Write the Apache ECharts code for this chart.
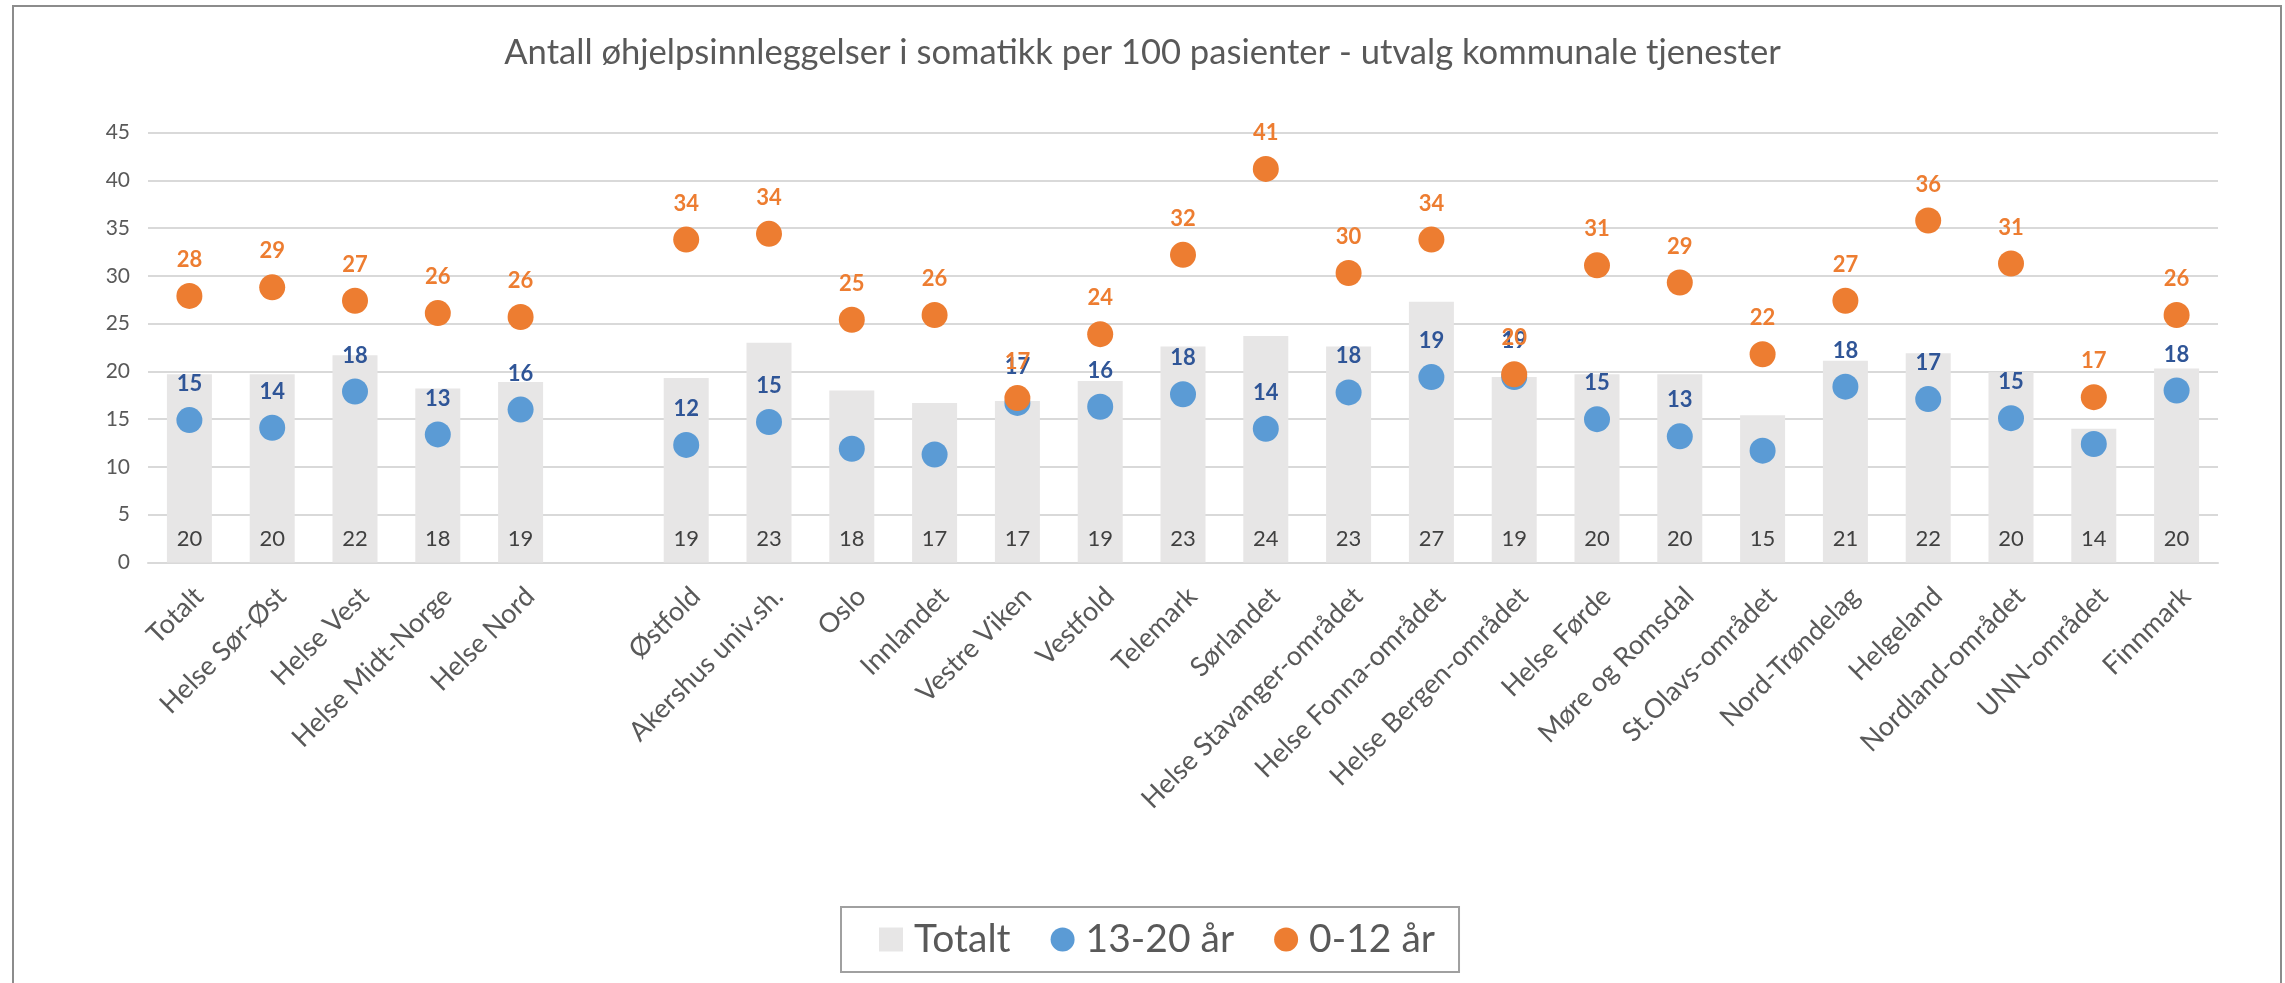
<!DOCTYPE html>
<html>
<head>
<meta charset="utf-8">
<script src="https://cdn.jsdelivr.net/npm/echarts@6/dist/echarts.min.js"></script>
<style>
html,body{margin:0;padding:0;background:#fff;}
#chart{width:2285px;height:983px;}
</style>
</head>
<body>
<div id="chart"></div>
<script>
const title = 'Antall øhjelpsinnleggelser i somatikk per 100 pasienter - utvalg kommunale tjenester';
const categories = ['Totalt','Helse Sør-Øst','Helse Vest','Helse Midt-Norge','Helse Nord','','Østfold','Akershus univ.sh.','Oslo','Innlandet','Vestre Viken','Vestfold','Telemark','Sørlandet','Helse Stavanger-området','Helse Fonna-området','Helse Bergen-området','Helse Førde','Møre og Romsdal','St.Olavs-området','Nord-Trøndelag','Helgeland','Nordland-området','UNN-området','Finnmark'];
const totalt = [19.7,19.7,21.7,18.2,18.9,null,19.3,23.0,18.0,16.7,16.9,19.0,22.6,23.7,22.6,27.3,19.4,19.7,19.7,15.4,21.1,21.9,19.9,14.0,20.3];
const teen = [14.9,14.1,17.9,13.4,16.0,null,12.3,14.7,11.9,11.3,16.7,16.3,17.6,14.0,17.8,19.4,19.4,15.0,13.2,11.7,18.4,17.1,15.1,12.4,18.0];
const child = [27.9,28.8,27.4,26.1,25.7,null,33.8,34.4,25.4,25.9,17.2,23.9,32.2,41.2,30.3,33.8,19.7,31.1,29.3,21.8,27.4,35.8,31.3,17.3,25.9];
const teenLabelHidden = ['Oslo','Innlandet','St.Olavs-området','UNN-området'];
const seriesNames = ['Totalt','13-20 år','0-12 år'];
const yTicks = {min:0, max:45, interval:5};

const FONT = 'Lato, "Liberation Sans", sans-serif';
const chart = echarts.init(document.getElementById('chart'));
const round = p => (p.value == null ? '' : String(Math.round(p.value)));

const teenData = teen.map((v,i) => teenLabelHidden.includes(categories[i]) ? {value:v, label:{show:false}} : v);

chart.setOption({
  backgroundColor:'#fff',
  animation:false,
  textStyle:{fontFamily:FONT},
  title:{
    text:title, left:'center', top:30,
    textStyle:{color:'#595959', fontSize:34.6, fontWeight:'normal', fontFamily:FONT}
  },
  graphic:[{
    type:'rect', shape:{x:13, y:6, width:2268, height:1010},
    style:{fill:'none', stroke:'#8c8c8c', lineWidth:2}, silent:true, z:-1
  }],
  legend:{
    left:841, top:907,
    padding:[13,24,13,38],
    borderColor:'#a0a0a0', borderWidth:2,
    itemWidth:24, itemHeight:24, itemGap:40,
    textStyle:{color:'#595959', fontSize:39, fontFamily:FONT, padding:[0,0,0,6]},
    data:[
      {name:seriesNames[0], icon:'rect'},
      {name:seriesNames[1], icon:'circle'},
      {name:seriesNames[2], icon:'circle'}
    ]
  },
  grid:{left:148, top:132.6, width:2070, height:429.8, containLabel:false},
  xAxis:{
    type:'category', data:categories,
    axisLine:{show:true, lineStyle:{color:'#d9d9d9', width:2}},
    axisTick:{show:false},
    axisLabel:{rotate:45, interval:0, margin:20, align:'right', verticalAlign:'top',
               color:'#595959', fontSize:27, fontFamily:FONT}
  },
  yAxis:{
    type:'value', min:yTicks.min, max:yTicks.max, interval:yTicks.interval,
    axisLine:{show:false}, axisTick:{show:false},
    axisLabel:{color:'#595959', fontSize:21, margin:18, fontFamily:FONT},
    splitLine:{lineStyle:{color:'#d9d9d9', width:2}}
  },
  series:[
    {
      name:seriesNames[0], type:'bar', data:totalt, barWidth:45,
      itemStyle:{color:'#e7e6e6'},
      label:{show:true, position:'insideBottom', distance:12, formatter:round,
             color:'#404040', fontSize:22, fontFamily:FONT}
    },
    {
      name:seriesNames[1], type:'scatter', data:teenData, symbol:'circle', symbolSize:26,
      itemStyle:{color:'#5b9bd5', opacity:1},
      label:{show:true, position:'top', distance:12, formatter:round,
             color:'#2f5597', fontSize:22, fontWeight:'bold', fontFamily:FONT}
    },
    {
      name:seriesNames[2], type:'scatter', data:child, symbol:'circle', symbolSize:26,
      itemStyle:{color:'#ed7d31', opacity:1},
      label:{show:true, position:'top', distance:12, formatter:round,
             color:'#ed7d31', fontSize:22, fontWeight:'bold', fontFamily:FONT}
    }
  ]
});
</script>
</body>
</html>
